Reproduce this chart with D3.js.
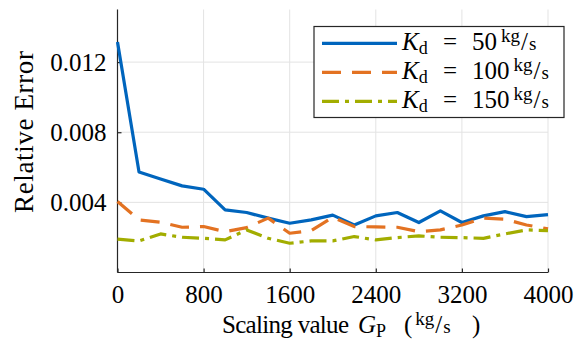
<!DOCTYPE html>
<html>
<head>
<meta charset="utf-8">
<script src="https://cdn.jsdelivr.net/npm/d3@7/dist/d3.min.js"></script>
<style>
  body { margin: 0; background: #fff; }
  svg text { font-family: "Liberation Serif", "Times New Roman", serif; fill: #000; }
</style>
</head>
<body>
<div id="chart"></div>
<script>
const w = 575, h = 340;

// scaling value G_P (kg/s)
const gp = [0, 200, 400, 600, 800, 1000, 1200, 1400, 1600, 1800, 2000,
            2200, 2400, 2600, 2800, 3000, 3200, 3400, 3600, 3800, 4000];
// relative error for each Kd
const kd50 = [0.01315, 0.00573, 0.00533, 0.00494, 0.00475, 0.00357, 0.00342, 0.0031, 0.00281, 0.0030, 0.00327,
              0.00271, 0.00323, 0.00342, 0.00285, 0.00351, 0.00285, 0.00323, 0.00347, 0.00319, 0.0033];
const kd100 = [0.00405, 0.0030, 0.00287, 0.00258, 0.00262, 0.00233, 0.00256, 0.0031, 0.00224, 0.00239, 0.00315,
               0.00262, 0.0026, 0.00258, 0.00233, 0.00243, 0.00271, 0.0031, 0.00304, 0.00271, 0.00249];
const kd150 = [0.0019, 0.0018, 0.0022, 0.00201, 0.00195, 0.00186, 0.00243, 0.00195, 0.00167, 0.0018, 0.0018,
               0.00205, 0.00186, 0.00199, 0.00209, 0.00201, 0.00199, 0.00195, 0.0022, 0.00243, 0.00239];

const xTicks = [0, 800, 1600, 2400, 3200, 4000];
const yTicks = [0.004, 0.008, 0.012];
const kdLabels = ["50", "100", "150"];

const series = [
  {kd: kdLabels[0], vals: kd50, color: "#0065BD", dash: null},
  {kd: kdLabels[1], vals: kd100, color: "#E37222", dash: "19,11"},
  {kd: kdLabels[2], vals: kd150, color: "#A2AD00", dash: "17,6,4,6"}
];

const pLeft = 117.5, pRight = 548, pTop = 9.5, pBottom = 272.5;

const x = d3.scaleLinear().domain([0, 4000]).range([pLeft, pRight]);
const y = d3.scaleLinear().domain([0, 0.015]).range([pBottom, pTop]);

const svg = d3.select("#chart").append("svg")
  .attr("width", w)
  .attr("height", h);

// grid
svg.append("g").selectAll("line").data(xTicks).enter().append("line")
  .attr("x1", d => x(d)).attr("x2", d => x(d))
  .attr("y1", pBottom).attr("y2", pTop)
  .attr("stroke", "#e3e3e3").attr("stroke-width", 1);
svg.append("g").selectAll("line").data(yTicks).enter().append("line")
  .attr("x1", pLeft).attr("x2", pRight)
  .attr("y1", d => y(d)).attr("y2", d => y(d))
  .attr("stroke", "#e3e3e3").attr("stroke-width", 1);

// axes, ticks pointing inward
const xAxis = svg.append("g")
  .attr("transform", "translate(0," + pBottom + ")")
  .call(d3.axisBottom(x).tickValues(xTicks).tickSizeInner(-4).tickSizeOuter(0).tickPadding(13).tickFormat(d3.format("d")));
const yAxis = svg.append("g")
  .attr("transform", "translate(" + pLeft + ",0)")
  .call(d3.axisLeft(y).tickValues(yTicks).tickSizeInner(-4).tickSizeOuter(0).tickPadding(11).tickFormat(d3.format(".3f")));

[xAxis, yAxis].forEach(function (a) {
  a.select(".domain").attr("stroke", "#262626").attr("stroke-width", 1.2);
  a.selectAll(".tick line").attr("stroke", "#262626").attr("stroke-width", 1.2);
  a.selectAll(".tick text").style("font-size", "25px")
    .style("font-family", "'Liberation Serif', serif").attr("fill", "#000");
});
yAxis.select(".domain").attr("d", "M0," + pTop + "V" + pBottom);
xAxis.select(".domain").attr("d", "M" + pLeft + ",0H" + pRight);

// lines
const line = d3.line().x((d, i) => x(gp[i])).y(d => y(d));
series.forEach(function (s) {
  svg.append("path")
    .datum(s.vals)
    .attr("d", line)
    .attr("fill", "none")
    .attr("stroke", s.color)
    .attr("stroke-width", 3.2)
    .attr("stroke-linejoin", "round")
    .attr("stroke-dasharray", s.dash);
});

// unit "kg/s" written as a nice fraction
const addUnit = function (t, dx) {
  t.append("tspan").text("kg").style("font-size", "19px").attr("dx", dx).attr("dy", -8);
  t.append("tspan").text("/").style("font-size", "25px").attr("dx", 1).attr("dy", 8);
  t.append("tspan").text("s").style("font-size", "19px").attr("dx", 1);
};

// legend
const lg = svg.append("g");
lg.append("rect")
  .attr("x", 314).attr("y", 26.5).attr("width", 250).attr("height", 91)
  .attr("fill", "#fff").attr("stroke", "#262626").attr("stroke-width", 1.2);
series.forEach(function (s, i) {
  const cy = 43.3 + i * 29;
  lg.append("line")
    .attr("x1", 322).attr("x2", 397)
    .attr("y1", cy).attr("y2", cy)
    .attr("stroke", s.color).attr("stroke-width", 3.2)
    .attr("stroke-dasharray", s.dash);
  const t = lg.append("text").attr("x", 402).attr("y", cy + 7).style("font-size", "25px");
  t.append("tspan").text("K").style("font-style", "italic");
  t.append("tspan").text("d").style("font-size", "18px").attr("dy", 4);
  t.append("tspan").text("=").attr("x", 443).attr("dy", -4);
  t.append("tspan").text(s.kd).attr("x", 472);
  addUnit(t, 4);
});

// axis labels
const xl = svg.append("text").attr("y", 333).style("font-size", "25px");
xl.append("tspan").text("Scaling value").attr("x", 222)
  .attr("textLength", 127).attr("lengthAdjust", "spacing");
xl.append("tspan").text("G").attr("x", 358).style("font-style", "italic");
xl.append("tspan").text("P").style("font-size", "18px").attr("dy", 4);
xl.append("tspan").text("(").attr("x", 404).attr("dy", -4);
addUnit(xl, 3);
xl.append("tspan").text(")").attr("x", 472);

svg.append("text")
  .attr("transform", "translate(33,132) rotate(-90)")
  .attr("text-anchor", "middle")
  .attr("textLength", 162).attr("lengthAdjust", "spacing")
  .style("font-size", "27px")
  .text("Relative Error");
</script>
</body>
</html>
